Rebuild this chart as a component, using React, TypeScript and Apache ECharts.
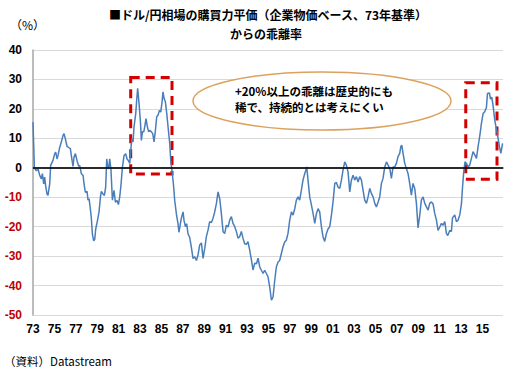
import React, { useEffect, useRef } from "react";
import * as echarts from "echarts";

// Time of each observation, as decimal year
const dates: number[] = [
  1973.0, 1973.13, 1973.31, 1973.47, 1973.63, 1973.78, 1973.88, 1974.0, 1974.09, 1974.19,
  1974.31, 1974.4, 1974.56, 1974.65, 1974.87, 1975.03, 1975.12, 1975.25, 1975.34, 1975.5,
  1975.65, 1975.81, 1975.9, 1976.02, 1976.18, 1976.37, 1976.49, 1976.65, 1976.74, 1976.83,
  1976.96, 1977.11, 1977.27, 1977.36, 1977.52, 1977.68, 1977.77, 1977.89, 1978.05, 1978.14,
  1978.24, 1978.36, 1978.45, 1978.55, 1978.67, 1978.77, 1978.86, 1979.02, 1979.17, 1979.3,
  1979.39, 1979.54, 1979.67, 1979.79, 1979.89, 1979.98, 1980.07, 1980.17, 1980.29, 1980.42,
  1980.57, 1980.7, 1980.85, 1980.98, 1981.1, 1981.23, 1981.35, 1981.51, 1981.66, 1981.79,
  1981.91, 1982.04, 1982.19, 1982.26, 1982.35, 1982.44, 1982.6, 1982.69, 1982.78, 1982.91,
  1983.03, 1983.13, 1983.22, 1983.35, 1983.44, 1983.56, 1983.69, 1983.81, 1983.94, 1984.06,
  1984.19, 1984.31, 1984.44, 1984.56, 1984.69, 1984.81, 1984.94, 1985.06, 1985.15, 1985.25,
  1985.37, 1985.5, 1985.62, 1985.78, 1985.87, 1985.99, 1986.12, 1986.24, 1986.4, 1986.55,
  1986.64, 1986.77, 1986.87, 1987.02, 1987.11, 1987.24, 1987.36, 1987.49, 1987.64, 1987.8,
  1987.95, 1988.11, 1988.27, 1988.42, 1988.58, 1988.74, 1988.89, 1989.05, 1989.2, 1989.36,
  1989.51, 1989.67, 1989.82, 1989.98, 1990.14, 1990.29, 1990.45, 1990.6, 1990.76, 1990.92,
  1991.07, 1991.23, 1991.38, 1991.54, 1991.69, 1991.85, 1992.0, 1992.16, 1992.31, 1992.47,
  1992.62, 1992.78, 1992.94, 1993.09, 1993.25, 1993.41, 1993.56, 1993.72, 1993.88, 1994.03,
  1994.19, 1994.34, 1994.5, 1994.65, 1994.81, 1994.96, 1995.12, 1995.28, 1995.43, 1995.59,
  1995.74, 1995.9, 1996.05, 1996.21, 1996.36, 1996.52, 1996.67, 1996.83, 1996.99, 1997.15,
  1997.3, 1997.46, 1997.61, 1997.77, 1997.92, 1998.08, 1998.23, 1998.39, 1998.49, 1998.58,
  1998.7, 1998.86, 1999.02, 1999.17, 1999.33, 1999.49, 1999.64, 1999.79, 1999.95, 2000.1,
  2000.26, 2000.42, 2000.57, 2000.73, 2000.89, 2001.04, 2001.2, 2001.35, 2001.51, 2001.66,
  2001.82, 2001.97, 2002.13, 2002.28, 2002.44, 2002.6, 2002.75, 2002.91, 2003.06, 2003.22,
  2003.38, 2003.53, 2003.69, 2003.84, 2004.0, 2004.16, 2004.31, 2004.47, 2004.62, 2004.78,
  2004.94, 2005.09, 2005.25, 2005.4, 2005.56, 2005.71, 2005.87, 2006.03, 2006.18, 2006.34,
  2006.49, 2006.65, 2006.8, 2006.96, 2007.11, 2007.27, 2007.37, 2007.46, 2007.58, 2007.74,
  2007.89, 2008.05, 2008.2, 2008.36, 2008.51, 2008.67, 2008.83, 2008.98, 2009.14, 2009.29,
  2009.45, 2009.61, 2009.77, 2009.92, 2010.07, 2010.23, 2010.38, 2010.54, 2010.7, 2010.85,
  2011.01, 2011.17, 2011.32, 2011.48, 2011.63, 2011.76, 2011.94, 2012.1, 2012.2, 2012.41,
  2012.57, 2012.72, 2012.88, 2013.04, 2013.14, 2013.25, 2013.37, 2013.5, 2013.65, 2013.81,
  2013.97, 2014.12, 2014.28, 2014.44, 2014.59, 2014.75, 2014.9, 2015.06, 2015.21, 2015.37,
  2015.47, 2015.65, 2015.75, 2015.87, 2015.99, 2016.15, 2016.3, 2016.45, 2016.6, 2016.72,
  2016.88,
];

// Deviation from PPP (%)
const deviation: number[] = [
  15.5, 0, -1, -0.4, -2.6, -3.8, -2, -5.5, -3.2, -6.4,
  -8.9, -9.4, -5.5, 0.8, 2.5, 4.8, 5.3, 3, 4.2, 7,
  8.8, 11, 11.6, 9.9, 7.3, 6.8, 6.5, 2.5, 0.5, 3.6,
  4.8, 2.5, 0.5, 0.8, -2, -2.6, -5.5, -8.3, -8, -11,
  -10.5, -14, -17, -22.5, -24.8, -24.3, -20.8, -18, -15, -10,
  -8, -8.9, -9.4, -6.6, 3, 0.2, -0.4, 3, -0.9, -11,
  -7.7, -11.7, -11.1, -12.5, -10, -5.5, 0, 4.2, 4.8, 3,
  2.5, 1.5, 8.3, 9.9, 8.8, 13.9, 18.4, 23, 27, 21.8,
  16.1, 9.3, 12.2, 12.2, 13.9, 16.7, 13.9, 12.2, 12.7, 12.2,
  11.6, 8.8, 12.7, 17.3, 17.9, 19.5, 18.9, 22.4, 25.8, 23.5,
  22.4, 18.4, 13.9, 8.2, 2.5, -1, -5.5, -11, -15.7, -19,
  -21.9, -19, -17, -15, -17.8, -20, -19, -22.5, -23.6, -27,
  -30.8, -30.2, -31.5, -29.6, -26.2, -25.5, -30.8, -27.4, -23.4, -21.1,
  -18.3, -18.6, -17.2, -15, -12.1, -8.2, -10.5, -15.5, -21.7, -22.3,
  -19.5, -20.1, -17.8, -16.6, -18.9, -20, -21.6, -23.9, -23.4, -21.6,
  -23.9, -25.8, -26, -25.1, -28, -31.3, -34.7, -32.4, -32.6, -30.7,
  -33.7, -34.8, -35.9, -34.8, -35.9, -37, -40.5, -45, -43.9, -38.2,
  -33.7, -32, -31.5, -29.1, -26.9, -25.2, -24.6, -22.3, -17.8, -15,
  -16.1, -13.9, -11, -9.9, -11, -7.6, -4.2, -2, -0.9, 0.3,
  -4.2, -9.9, -12.7, -15.5, -18.9, -15.5, -13.9, -15, -20, -23.4,
  -25, -22.3, -20.8, -20, -16, -11.5, -5.3, -5, -6.6, -7,
  -4.2, -0.8, 2, 0.9, -1.4, -8.2, -4.2, -2.5, -4.2, -3,
  -4.8, -3, -4.2, -7.6, -11, -12.1, -9.9, -7, -8.7, -9.9,
  -12.1, -13.3, -11.6, -9.9, -5.3, -3.6, 0.3, 2, 0.9, -0.2,
  -3.6, 0.3, 0.3, 1.5, 3.8, 4.9, 7.2, 7.7, 4.9, 1.5,
  -0.2, -2, -5.3, -9.3, -5.3, -7, -12.1, -20.4, -16.2, -11,
  -9.9, -12.1, -13.3, -14.4, -12.1, -11.6, -12.2, -15.5, -17.8, -21.3,
  -20.1, -18.9, -19.5, -18.3, -22.3, -23, -21.3, -21.6, -17, -16,
  -18.3, -17.8, -16, -12.2, -6.5, -1.4, 2, 1.5, 0.3, 0.9,
  3.2, 5.5, 4.4, 3.2, 7.2, 10.8, 15, 18.4, 19, 20.5,
  25.2, 25.4, 23.3, 24, 21.2, 16.2, 13.2, 10.2, 7, 4.9,
  8.3,
];

// Red dashed highlight boxes: [fromYear, toYear, top %, bottom %]
const highlightBoxes: number[][] = [
  [1982.13, 1985.99, 30.7, -2.1],
  [2013.44, 2016.36, 28.9, -3.9],
];

const yTicks = { min: -50, max: 40, interval: 10 };
const startYear = 1973;
const endYear = 2016.92;

const titleLines = [
  "■ドル/円相場の購買力平価（企業物価ベース、73年基準）",
  "からの乖離率",
];
const noteLines = ["+20%以上の乖離は歴史的にも", "稀で、持続的とは考えにくい"];
const unitLabel = "（%）";
const sourceLabel = "（資料）Datastream";

export default function App() {
  const ref = useRef<HTMLDivElement>(null);

  useEffect(() => {
    document.body.style.margin = "0";
    if (!ref.current) return;
    const chart = echarts.init(ref.current, null, { renderer: "svg" });
    const cjk = "'Noto Sans CJK JP', 'Liberation Sans', sans-serif";
    const latin = "'Liberation Sans', Arial, sans-serif";

    const data = dates.map((d, i) => [d - startYear, deviation[i]]);

    chart.setOption({
      animation: false,
      backgroundColor: "#ffffff",
      grid: { left: 33, right: 17, top: 50, bottom: 65, containLabel: false },
      xAxis: {
        type: "value",
        min: 0,
        max: endYear - startYear,
        interval: 2,
        axisLine: { show: true, lineStyle: { color: "#a6a6a6", width: 2 } },
        axisTick: { show: false },
        splitLine: { show: false },
        axisLabel: {
          showMaxLabel: false,
          margin: 8,
          color: "#000",
          fontFamily: latin,
          fontWeight: "bold",
          fontSize: 12,
          formatter: (v: number) => {
            if (Math.abs(v - Math.round(v)) > 1e-6) return "";
            const yr = (startYear + Math.round(v)) % 100;
            return String(yr).padStart(2, "0");
          },
        },
      },
      yAxis: {
        type: "value",
        min: yTicks.min,
        max: yTicks.max,
        interval: yTicks.interval,
        axisLine: { show: true, lineStyle: { color: "#a6a6a6", width: 1.5 } },
        axisTick: { show: false },
        splitLine: { show: true, lineStyle: { color: "#d9d9d9", width: 1 } },
        axisLabel: {
          margin: 11,
          fontFamily: latin,
          fontWeight: "bold",
          fontSize: 12,
          color: (v: any) => (Number(v) < 0 ? "#c00000" : "#000000"),
        },
      },
      series: [
        {
          type: "line",
          data,
          showSymbol: false,
          symbol: "none",
          lineStyle: { color: "#4a7ebb", width: 1.5 },
          silent: true,
          markLine: {
            silent: true,
            symbol: ["none", "none"],
            label: { show: false },
            lineStyle: { color: "#000", width: 1.5, type: "solid" },
            data: [{ yAxis: 0 }],
          },
          markArea: {
            silent: true,
            itemStyle: {
              color: "rgba(0,0,0,0)",
              borderColor: "#d40000",
              borderWidth: 3,
              borderType: [9, 6],
            },
            data: highlightBoxes.map((b) => [
              { coord: [b[0] - startYear, b[2]] },
              { coord: [b[1] - startYear, b[3]] },
            ]),
          },
        },
      ],
      graphic: [
        {
          type: "text",
          x: 268,
          y: 8,
          style: {
            text: titleLines[0],
            fontFamily: cjk,
            fontSize: 12,
            fontWeight: "bold",
            fill: "#000",
            textAlign: "center",
          },
        },
        {
          type: "text",
          x: 266,
          y: 27,
          style: {
            text: titleLines[1],
            fontFamily: cjk,
            fontSize: 12,
            fontWeight: "bold",
            fill: "#000",
            textAlign: "center",
          },
        },
        {
          type: "text",
          x: 10,
          y: 18,
          style: { text: unitLabel, fontFamily: cjk, fontSize: 12, fill: "#000" },
        },
        {
          type: "text",
          x: 4,
          y: 355,
          style: { text: sourceLabel, fontFamily: cjk, fontSize: 11.5, fill: "#000" },
        },
        {
          type: "ellipse",
          z: 50,
          shape: { cx: 322, cy: 101, rx: 129, ry: 29 },
          style: { fill: "#ffffff", stroke: "#dda15e", lineWidth: 1.5 },
        },
        {
          type: "text",
          z: 51,
          x: 235,
          y: 91,
          style: {
            text: noteLines[0],
            fontFamily: cjk,
            fontSize: 11.5,
            fontWeight: "bold",
            fill: "#000",
            textVerticalAlign: "middle",
          },
        },
        {
          type: "text",
          z: 51,
          x: 235,
          y: 107,
          style: {
            text: noteLines[1],
            fontFamily: cjk,
            fontSize: 11.5,
            fontWeight: "bold",
            fill: "#000",
            textVerticalAlign: "middle",
          },
        },
      ],
    });

    return () => chart.dispose();
  }, []);

  return <div ref={ref} style={{ width: 520, height: 380 }} />;
}
